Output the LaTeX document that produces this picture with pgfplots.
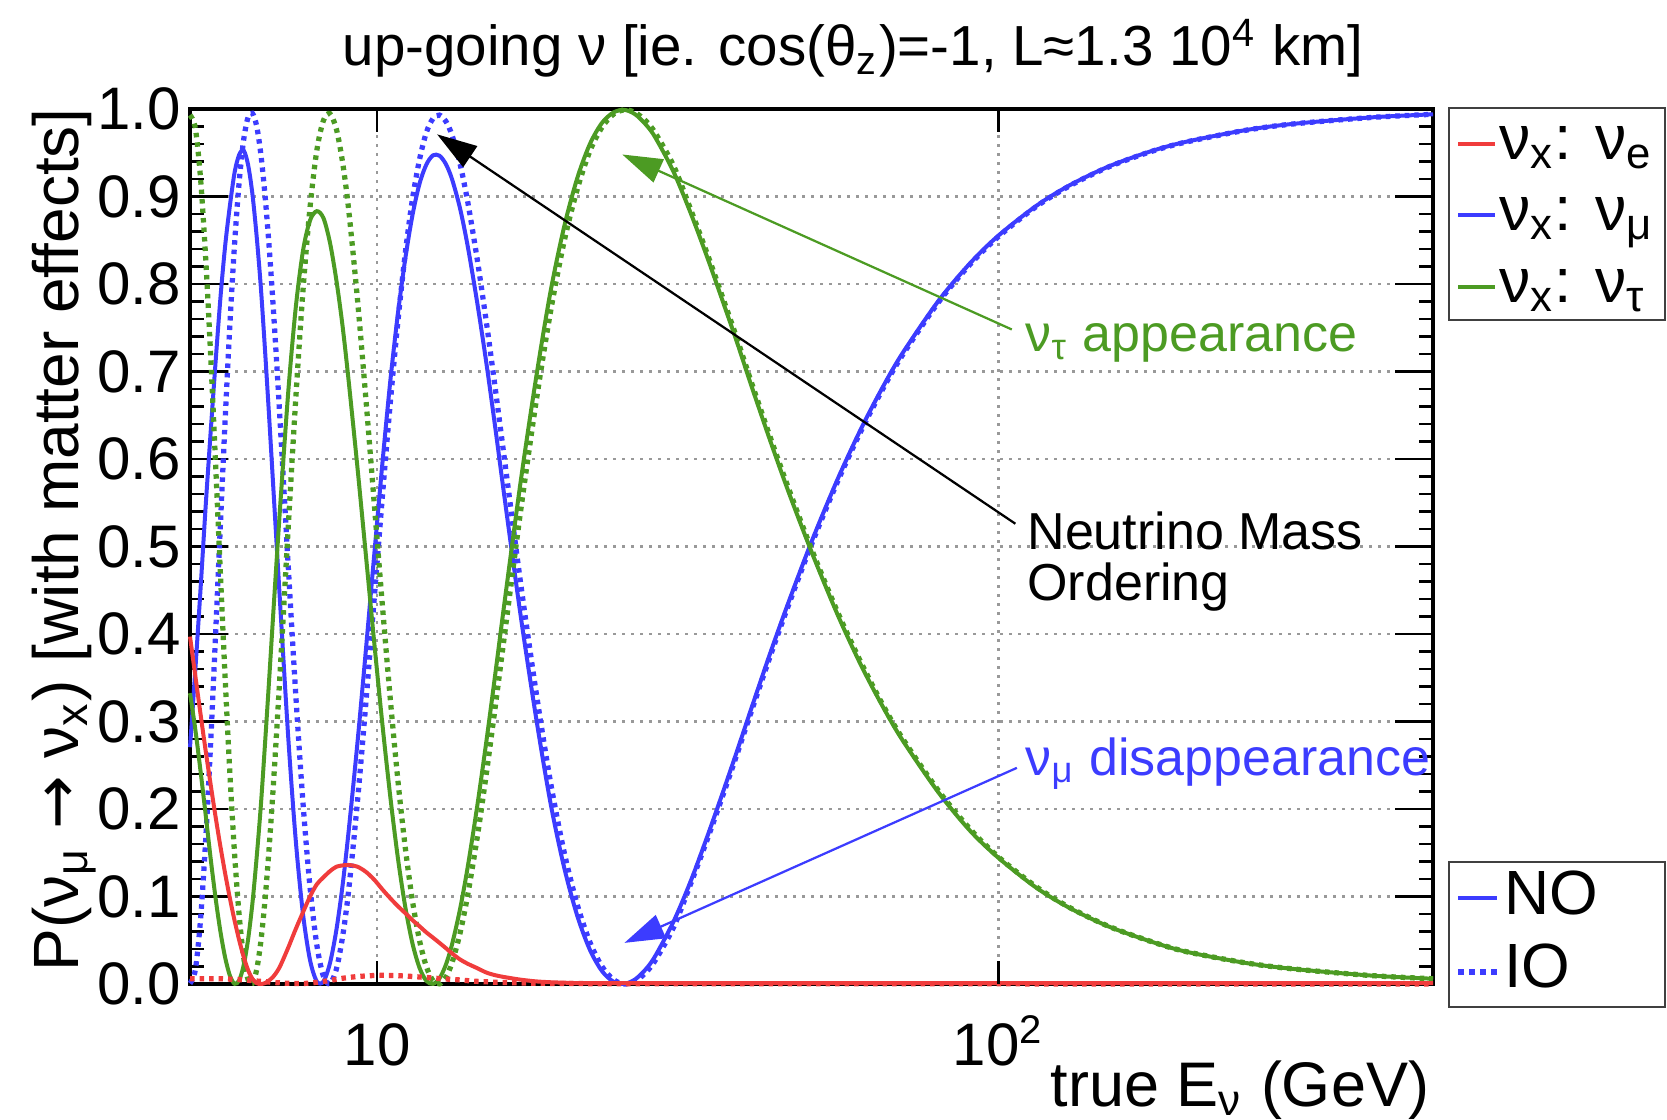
\documentclass[border=0pt]{standalone}
\usepackage{pgfplots}
\pgfplotsset{compat=1.18}
\usepackage{pgfplotstable}
\usepackage{fontspec}
\setmainfont{Liberation Sans}
\newfontfamily\djv{DejaVu Sans}
\usetikzlibrary{arrows.meta}
\definecolor{cred}{RGB}{240,60,60}
\definecolor{cblue}{RGB}{60,60,255}
\definecolor{cgreen}{RGB}{76,155,35}

\pgfplotstableread{
E e mu tau
5.0 0.397 0.2706 0.3324
5.1 0.352 0.3593 0.2907
5.2 0.308 0.4522 0.2428
5.3 0.266 0.5472 0.1928
5.4 0.227 0.6328 0.1422
5.5 0.190 0.7131 0.0969
5.6 0.156 0.7863 0.0587
5.7 0.125 0.8459 0.0291
5.8 0.097 0.8910 0.0089
5.9 0.072 0.9280 0.0002
6.0 0.050 0.9478 0.0042
6.1 0.031 0.9526 0.0214
6.2 0.016 0.9364 0.0506
6.3 0.006 0.9033 0.0917
6.4 0.001 0.8549 0.1441
6.5 0.000 0.7967 0.2033
6.6 0.001 0.7260 0.2730
6.7 0.004 0.6508 0.3452
6.8 0.008 0.5738 0.4182
6.9 0.014 0.4966 0.4894
7.0 0.022 0.4215 0.5565
7.2 0.042 0.2790 0.6790
7.4 0.063 0.1633 0.7737
7.6 0.082 0.0800 0.8380
7.8 0.100 0.0273 0.8727
8.0 0.114 0.0028 0.8832
8.2 0.122 0.0029 0.8751
8.4 0.129 0.0241 0.8469
8.6 0.134 0.0618 0.8042
8.8 0.1355 0.1128 0.7517
9.0 0.136 0.1748 0.6892
9.3 0.134 0.2763 0.5897
9.6 0.128 0.3842 0.4878
9.9 0.119 0.4925 0.3885
10.2 0.108 0.5957 0.2963
10.5 0.098 0.6887 0.2143
10.8 0.089 0.7659 0.1441
11.1 0.081 0.8288 0.0882
11.4 0.073 0.8786 0.0464
11.7 0.066 0.9144 0.0186
12.0 0.059 0.9364 0.0036
12.3 0.053 0.9470 0.0001
12.6 0.047 0.9466 0.0064
12.9 0.041 0.9371 0.0219
13.2 0.035 0.9198 0.0452
13.6 0.028 0.8861 0.0859
14.0 0.023 0.8420 0.1350
14.5 0.018 0.7774 0.2046
15 0.013 0.7083 0.2787
15.5 0.010 0.6349 0.3551
16 0.008 0.5609 0.4311
17 0.005 0.4237 0.5713
18 0.003 0.3068 0.6902
19 0.002 0.2079 0.7901
20 0.0015 0.1331 0.8655
21 0.001 0.0776 0.9213
22 0.001 0.0390 0.9600
23 0.001 0.0149 0.9840
24 0.001 0.0027 0.9960
25 0.001 0.0002 0.9990
26 0.001 0.0052 0.9940
27 0.001 0.0161 0.9830
28 0.001 0.0315 0.9680
30 0.001 0.0716 0.9280
32 0.001 0.1185 0.8800
34 0.001 0.1689 0.8300
36 0.001 0.2189 0.7800
38 0.001 0.2675 0.7320
40 0.001 0.3147 0.6840
43 0.001 0.3800 0.6190
46 0.001 0.4377 0.5610
50 0.001 0.5054 0.4940
55 0.001 0.5759 0.4230
60 0.001 0.6338 0.3650
65 0.001 0.6812 0.3180
70 0.001 0.7205 0.2790
80 0.001 0.7806 0.2190
90 0.001 0.8238 0.1750
100 0.001 0.8555 0.1440
115 0.001 0.8893 0.1100
130 0.001 0.9127 0.0870
150 0.001 0.9340 0.0660
175 0.001 0.9512 0.0490
200 0.001 0.9624 0.0370
250 0.001 0.9759 0.0240
300 0.001 0.9832 0.0170
400 0.001 0.9905 0.0095
500 0.001 0.9939 0.0060
}\NOtab

\pgfplotstableread{
E e mu tau
5.0 0.006 0.0007 0.9930
5.1 0.006 0.0163 0.9780
5.2 0.006 0.0744 0.9200
5.3 0.006 0.1655 0.8285
5.4 0.006 0.2783 0.7157
5.5 0.006 0.4032 0.5908
5.6 0.006 0.5297 0.4643
5.7 0.0058 0.6498 0.3442
5.8 0.0055 0.7573 0.2368
5.9 0.0052 0.8474 0.1471
6.0 0.005 0.9172 0.0778
6.1 0.0046 0.9647 0.0305
6.2 0.0042 0.9904 0.0051
6.3 0.0038 0.9950 0.0009
6.4 0.0034 0.9808 0.0160
6.5 0.003 0.9487 0.0482
6.6 0.0026 0.9026 0.0948
6.7 0.0022 0.8447 0.1533
6.8 0.0018 0.7782 0.2205
6.9 0.0015 0.7052 0.2937
7.0 0.0012 0.6286 0.3704
7.2 0.0008 0.4742 0.5253
7.4 0.0006 0.3297 0.6698
7.6 0.0006 0.2068 0.7928
7.8 0.001 0.1105 0.8874
8.0 0.002 0.0443 0.9530
8.2 0.003 0.0085 0.9871
8.4 0.004 0.0005 0.9945
8.6 0.0055 0.0170 0.9770
8.8 0.0065 0.0540 0.9390
9.0 0.0075 0.1070 0.8850
9.3 0.0085 0.2090 0.7820
9.6 0.0092 0.3240 0.6660
9.9 0.0097 0.4430 0.5470
10.2 0.0099 0.5580 0.4320
10.5 0.0098 0.6640 0.3260
10.8 0.0095 0.7570 0.2330
11.1 0.0091 0.8350 0.1560
11.4 0.0086 0.8970 0.0950
11.7 0.008 0.9420 0.0500
12.0 0.0075 0.9730 0.0200
12.3 0.0068 0.9890 0.0038
12.6 0.0062 0.9930 0.0002
12.9 0.0057 0.9860 0.0076
13.2 0.0052 0.9700 0.0243
13.6 0.0046 0.9370 0.0583
14.0 0.0038 0.8926 0.1029
14.5 0.003 0.8270 0.1688
15 0.0025 0.7550 0.2419
15.5 0.002 0.6796 0.3179
16 0.0017 0.6042 0.3938
17 0.0012 0.4607 0.5378
18 0.0009 0.3364 0.6626
19 0.0007 0.2318 0.7670
20 0.0006 0.1506 0.8488
21 0.0005 0.0903 0.9086
22 0.0004 0.0477 0.9520
23 0.0004 0.0201 0.9790
24 0.0003 0.0050 0.9940
25 0.0003 0.0000 0.9990
26 0.0003 0.0031 0.9960
27 0.0003 0.0124 0.9870
28 0.0003 0.0266 0.9730
30 0.0003 0.0649 0.9350
32 0.0002 0.1156 0.8840
34 0.0002 0.1656 0.8340
36 0.0002 0.2155 0.7840
38 0.0002 0.2640 0.7360
40 0.0002 0.3113 0.6880
43 0.0002 0.3765 0.6230
46 0.0002 0.4345 0.5650
50 0.0002 0.5024 0.4970
55 0.0002 0.5733 0.4260
60 0.0002 0.6314 0.3680
65 0.0002 0.6790 0.3200
70 0.0002 0.7184 0.2810
80 0.0002 0.7790 0.2210
90 0.0002 0.8225 0.1770
100 0.0002 0.8543 0.1450
115 0.0001 0.8885 0.1110
130 0.0001 0.9120 0.0875
150 0.0001 0.9335 0.0662
175 0.0001 0.9508 0.0491
200 0.0001 0.9621 0.0371
250 0.0001 0.9757 0.0241
300 0.0001 0.9831 0.0170
400 0.0001 0.9904 0.0095
500 0.0001 0.9939 0.0060
}\IOtab

\begin{document}
\begin{tikzpicture}
\useasboundingbox (-38pt,-27.2pt) rectangle (295.4pt,196.8pt);
\begin{axis}[
  at={(0pt,0pt)}, anchor=south west,
  scale only axis, width=248.6pt, height=175pt,
  xmode=log, log basis x=10,
  xmin=5, xmax=500, ymin=0, ymax=1,
  xtick={10,100}, xticklabels={,},
  xtick style={draw=none}, xminorticks=false,
  ytick={0,0.1,0.2,0.3,0.4,0.5,0.6,0.7,0.8,0.9,1},
  yticklabels={0.0,0.1,0.2,0.3,0.4,0.5,0.6,0.7,0.8,0.9,1.0},
  minor y tick num=4,
  major tick length=7.6pt, minor tick length=2.8pt,
  tick align=inside, tick pos=both,
  every tick/.style={black, line width=0.5pt},
  grid=major,
  major grid style={gray!80, dash pattern=on 0.6pt off 1.2pt, line width=0.5pt},
  axis line style={line width=0.7pt},
  /pgf/number format/assume math mode=true,
  yticklabel style={font=\fontsize{12}{14}\selectfont, inner sep=0pt, xshift=-1.6pt},
  clip=false,
]
\addplot[cblue, line width=0.8pt, smooth] table[x=E, y=mu] {\NOtab};
\addplot[cblue, line width=1.05pt, dash pattern=on 0.9pt off 1pt, smooth] table[x=E, y=mu] {\IOtab};
\addplot[cgreen, line width=0.8pt, smooth] table[x=E, y=tau] {\NOtab};
\addplot[cgreen, line width=1.05pt, dash pattern=on 0.9pt off 1pt, smooth] table[x=E, y=tau] {\IOtab};
\addplot[cred, line width=0.8pt, smooth] table[x=E, y=e] {\NOtab};
\addplot[cred, line width=1.05pt, dash pattern=on 0.9pt off 1pt, smooth] table[x=E, y=e] {\IOtab};

\draw[black, line width=0.45pt, -{Triangle[length=8pt,width=5pt]}] (axis cs:106.4,0.526) -- (axis cs:12.49,0.971);
\draw[cgreen, line width=0.45pt, -{Triangle[length=8pt,width=5pt]}] (axis cs:105,0.748) -- (axis cs:24.8,0.948);
\draw[cblue, line width=0.45pt, -{Triangle[length=8pt,width=5pt]}] (axis cs:107,0.247) -- (axis cs:25,0.047);

\node[anchor=base west, inner sep=0pt, text=cgreen, font=\fontsize{10.4}{12}\selectfont] at (axis cs:110.1,0.7226) {ν\textsubscript{τ} appearance};
\node[anchor=base west, inner sep=0pt, text=black, font=\fontsize{10.4}{12}\selectfont] at (axis cs:110.9,0.4968) {Neutrino Mass};
\node[anchor=base west, inner sep=0pt, text=black, font=\fontsize{10.4}{12}\selectfont] at (axis cs:110.9,0.4387) {Ordering};
\node[anchor=base west, inner sep=0pt, text=cblue, font=\fontsize{10.4}{12}\selectfont] at (axis cs:110.1,0.2387) {ν\textsubscript{μ} disappearance};
\end{axis}

\begin{axis}[
  at={(0pt,0pt)}, anchor=south west,
  scale only axis, width=248.6pt, height=175pt,
  xmode=log, log basis x=10,
  xmin=5, xmax=500, ymin=0, ymax=1,
  ytick=\empty,
  xtick={10,100}, xticklabels={10,10\textsuperscript{2}},
  major tick length=4.6pt, minor tick length=2.2pt,
  tick align=inside, tick pos=both,
  every tick/.style={black, line width=0.5pt},
  axis line style={draw=none},
  xticklabel style={font=\fontsize{12}{14}\selectfont, anchor=base, inner sep=0pt, yshift=-16.2pt},
]
\end{axis}

% title and axis labels
\node[anchor=base, inner sep=0pt, font=\fontsize{11.3}{13}\selectfont] at (132.6pt,183.6pt)
  {up-going ν [ie. cos(θ\textsubscript{z})=-1, L≈1.3 10\textsuperscript{4} km]};
\node[rotate=90, anchor=base, inner sep=0pt, font=\fontsize{12.8}{15}\selectfont] at (-22.4pt,88.8pt)
  {P(ν\textsubscript{μ} {\djv →} ν\textsubscript{x}) [with matter effects]};
\node[anchor=base east, inner sep=0pt, font=\fontsize{12.6}{15}\selectfont] at (248pt,-24.4pt)
  {true E\textsubscript{ν} (GeV)};

% flavour legend
\draw[gray!50!black, line width=0.5pt] (251.8pt,132.8pt) rectangle (295pt,175.2pt);
\draw[cred, line width=0.8pt] (253.6pt,168pt) -- (261pt,168pt);
\draw[cblue, line width=0.8pt] (253.6pt,153.8pt) -- (261pt,153.8pt);
\draw[cgreen, line width=0.8pt] (253.6pt,139.4pt) -- (261pt,139.4pt);
\node[anchor=base west, inner sep=0pt, font=\fontsize{12.5}{14}\selectfont] at (261.6pt,164.8pt) {ν\textsubscript{x}: ν\textsubscript{e}};
\node[anchor=base west, inner sep=0pt, font=\fontsize{12.5}{14}\selectfont] at (261.6pt,150.6pt) {ν\textsubscript{x}: ν\textsubscript{μ}};
\node[anchor=base west, inner sep=0pt, font=\fontsize{12.5}{14}\selectfont] at (261.6pt,136.2pt) {ν\textsubscript{x}: ν\textsubscript{τ}};

% ordering legend
\draw[gray!50!black, line width=0.5pt] (251.8pt,-4.6pt) rectangle (295pt,24.4pt);
\draw[cblue, line width=0.8pt] (253.6pt,17.2pt) -- (261.4pt,17.2pt);
\draw[cblue, line width=1.05pt, dash pattern=on 1.2pt off 1pt] (253.6pt,2.4pt) -- (261.4pt,2.4pt);
\node[anchor=base west, inner sep=0pt, font=\fontsize{12.5}{14}\selectfont] at (262.6pt,13.8pt) {NO};
\node[anchor=base west, inner sep=0pt, font=\fontsize{12.5}{14}\selectfont] at (262.6pt,-0.8pt) {IO};
\end{tikzpicture}
\end{document}
